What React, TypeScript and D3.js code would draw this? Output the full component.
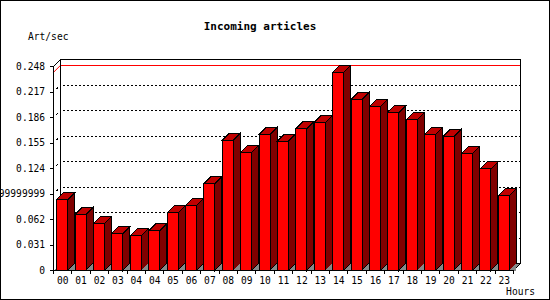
import React from "react";
import * as d3 from "d3";

const hours = ["00","01","02","03","04","04","05","06","07","08","09","10","11","12","13","14","15","16","17","18","19","20","21","22","23"];
const articlesPerSec = [0.0862,0.0682,0.0573,0.0451,0.0423,0.0484,0.0703,0.0788,0.1056,0.1584,0.1434,0.1654,0.1572,0.1727,0.1800,0.2409,0.2080,0.1995,0.1922,0.1836,0.1654,0.1629,0.1422,0.1235,0.0910];
const yTickValues = [0,0.031,0.062,0.093,0.124,0.155,0.186,0.217,0.248];
const yTickLabels = ["0","0.031","0.062","0.09299999999999999","0.124","0.155","0.186","0.217","0.248"];

const W = 550, H = 300;
const DX = 7, DY = 7;
const FONT = "'DejaVu Sans Mono', monospace";

export default function App() {
  const x = d3.scaleBand<number>().domain(hours.map((_, i) => i)).range([53.5, 513.5]).padding(0);
  const y = d3.scaleLinear().domain([0, 0.248]).range([270.5, 66.5]);
  const bw = x.bandwidth();
  const faceW = bw * 0.6;
  const x0 = 53.5, x1 = 513.5;
  const y0 = y(0), yTop = y(0.248);
  const maxV = d3.max(articlesPerSec) as number;

  return (
    <svg width={W} height={H} style={{ position: "absolute", left: 0, top: 0 }} shapeRendering="crispEdges">
      <rect x={0.5} y={0.5} width={W - 1} height={H - 1} fill="#fff" stroke="#000" />
      <text x={260} y={30} textAnchor="middle" fontFamily={FONT} fontWeight="bold" fontSize={11}>Incoming articles</text>
      <text x={28} y={40} fontFamily={FONT} fontSize={9.6}>Art/sec</text>

      {/* back grid lines */}
      {yTickValues.filter(v => v > 0 && v < 0.248).map((v, i) => (
        <g key={"g" + i}>
          <line x1={x0 + DX + 2} x2={x1 + DX} y1={y(v) - DY} y2={y(v) - DY} stroke="#000" strokeDasharray="2,2" />
          <line x1={x0 + DX * 0.4} y1={y(v) - DY * 0.4} x2={x0 + DX * 0.65} y2={y(v) - DY * 0.65} stroke="#000" />
        </g>
      ))}

      {/* max line */}
      <line x1={x0 + DX} x2={x1 + DX} y1={y(maxV) - DY} y2={y(maxV) - DY} stroke="#ff0000" />
      <line x1={x0} y1={y(maxV)} x2={x0 + DX} y2={y(maxV) - DY} stroke="#ff0000" shapeRendering="auto" />

      {/* back wall */}
      <rect x={x0 + DX} y={yTop - DY} width={x1 - x0} height={y0 - yTop} fill="none" stroke="#000" />
      {/* left wall */}
      <line x1={x0} y1={yTop} x2={x0 + DX} y2={yTop - DY} stroke="#000" shapeRendering="auto" />
      {/* floor */}
      <polygon points={`${x0},${y0} ${x0 + DX},${y0 - DY} ${x1 + DX},${y0 - DY} ${x1},${y0}`} fill="#888" stroke="none" />
      <line x1={x1} y1={y0} x2={x1 + DX} y2={y0 - DY} stroke="#000" shapeRendering="auto" />

      {/* bars */}
      {articlesPerSec.map((v, i) => {
        const fx = (x(i) as number) + (bw - faceW) / 2 - 0.5;
        const fr = fx + faceW;
        const ty = y(v);
        return (
          <g key={"b" + i} stroke="#000">
            <polygon points={`${fr},${ty} ${fr + DX},${ty - DY} ${fr + DX},${y0 - DY} ${fr},${y0}`} fill="#800000" />
            <polygon points={`${fr},${y0} ${fr + DX},${y0 - DY} ${fr + DX},${y0}`} fill="#888" stroke="none" />
            <polygon points={`${fx},${ty} ${fx + DX},${ty - DY} ${fr + DX},${ty - DY} ${fr},${ty}`} fill="#c00000" />
            <rect x={fx} y={ty} width={faceW} height={y0 - ty} fill="#ff0000" />
          </g>
        );
      })}

      {/* axes */}
      <line x1={x0} y1={yTop} x2={x0} y2={y0} stroke="#000" />
      <line x1={x0} y1={y0} x2={x1} y2={y0} stroke="#000" />
      {yTickValues.map((v, i) => (
        <g key={"yt" + i}>
          <line x1={x0 - 4} x2={x0} y1={y(v)} y2={y(v)} stroke="#000" />
          <text x={45} y={y(v)} dy="0.35em" textAnchor="end" fontFamily={FONT} fontSize={9.6}>{yTickLabels[i]}</text>
        </g>
      ))}
      {hours.map((h, i) => (
        <g key={"xt" + i}>
          <line x1={x(i) as number} x2={x(i) as number} y1={y0} y2={y0 + 3} stroke="#000" />
          <text x={(x(i) as number) + bw / 2} y={284} textAnchor="middle" fontFamily={FONT} fontSize={9.6}>{h}</text>
        </g>
      ))}
      <line x1={x1} x2={x1} y1={y0} y2={y0 + 3} stroke="#000" />
      <text x={535} y={295} textAnchor="end" fontFamily={FONT} fontSize={9.6}>Hours</text>
    </svg>
  );
}
